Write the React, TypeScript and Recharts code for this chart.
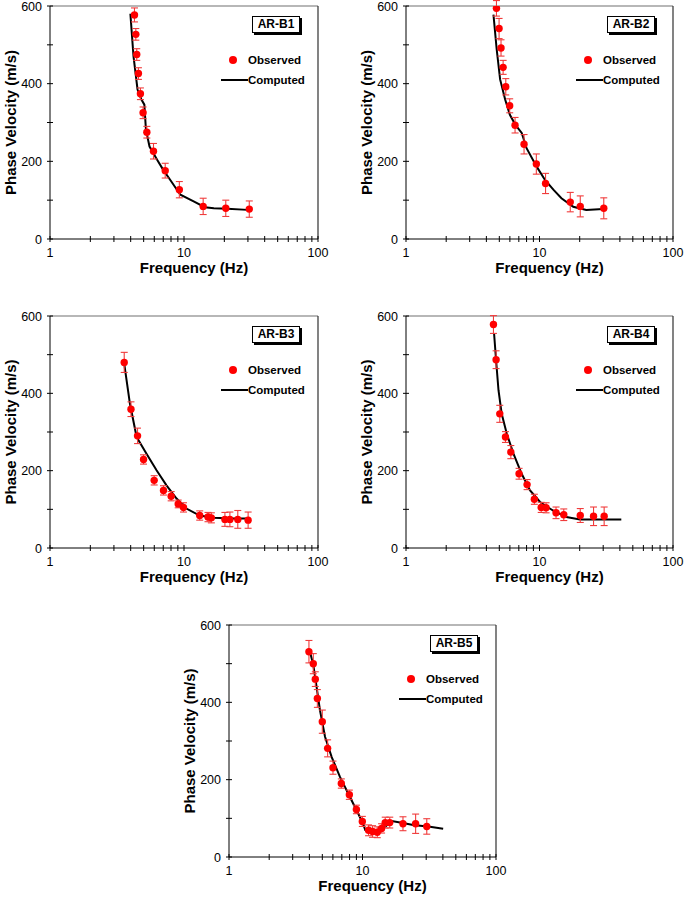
import React from 'react';
import {
  ComposedChart, Line, Scatter, XAxis, YAxis, ErrorBar, ReferenceLine,
} from 'recharts';

const FONT = '"Liberation Sans", Arial, Helvetica, sans-serif';

const X_TICKS = [1, 2, 3, 4, 5, 6, 7, 8, 9, 10, 20, 30, 40, 50, 60, 70, 80, 90, 100];
const X_LABELS = [1, 10, 100];
const Y_TICKS = [0, 100, 200, 300, 400, 500, 600];
const Y_LABELS = [0, 200, 400, 600];

// AR-B1
const B1_OBS_F = [4.27, 4.37, 4.44, 4.57, 4.73, 4.95, 5.28, 5.92, 7.24, 9.23, 13.9, 20.5, 30.7];
const B1_OBS_V = [577, 527, 475, 426, 374, 325, 275, 226, 176, 127, 84, 79, 77];
const B1_OBS_E = [18, 15, 15, 15, 15, 15, 15, 20, 19, 21, 21, 21, 21];
const B1_CALC_F = [3.98, 4.2, 4.5, 4.8, 5.06, 5.2, 5.53, 6.3, 7.0, 7.9, 9.4, 11.9, 14.3, 16.7, 21, 29.8];
const B1_CALC_V = [580, 470, 385, 360, 346, 281, 238, 204, 178, 152, 114, 96, 82, 79, 78, 75];

// AR-B2
const B2_OBS_F = [4.76, 4.98, 5.15, 5.34, 5.59, 5.98, 6.56, 7.66, 9.47, 11.1, 17.0, 20.2, 30.3];
const B2_OBS_V = [594, 542, 492, 442, 392, 343, 293, 244, 193, 143, 95, 84, 79];
const B2_OBS_E = [20, 26, 21, 18, 21, 18, 20, 25, 26, 26, 25, 27, 27];
const B2_CALC_F = [4.52, 4.78, 5.07, 5.53, 6.0, 6.6, 7.36, 8.0, 9.5, 11.0, 12.7, 14.6, 17.9, 22.4, 29.9];
const B2_CALC_V = [578, 488, 411, 359, 320, 294, 273, 234, 187, 152, 127, 105, 83, 75, 77];

// AR-B3
const B3_OBS_F = [3.58, 4.02, 4.5, 4.99, 5.99, 7.03, 8.02, 9.05, 9.91, 13.1, 15.1, 16.0, 20.2, 22.0, 25.2, 30.1];
const B3_OBS_V = [480, 359, 290, 229, 175, 149, 134, 114, 105, 84, 80, 78, 74, 74, 74, 72];
const B3_OBS_E = [26, 19, 20, 12, 12, 12, 12, 10, 12, 12, 12, 13, 18, 19, 23, 21];
const B3_CALC_F = [3.58, 3.95, 4.43, 5.25, 6.24, 7.4, 8.8, 10.4, 13.1, 16.5, 23.3, 30.1];
const B3_CALC_V = [477, 373, 287, 244, 201, 162, 128, 102, 84, 78, 76, 76];

// AR-B4
const B4_OBS_F = [4.52, 4.73, 5.04, 5.56, 6.1, 7.03, 8.07, 9.15, 10.3, 11.2, 13.3, 15.2, 20.2, 25.4, 30.5];
const B4_OBS_V = [578, 487, 347, 287, 248, 192, 164, 126, 105, 104, 91, 86, 84, 82, 82];
const B4_OBS_E = [23, 23, 22, 14, 17, 14, 13, 13, 13, 13, 15, 15, 18, 24, 24];
const B4_CALC_F = [4.57, 4.73, 4.93, 5.21, 5.68, 6.38, 7.35, 8.5, 10.1, 12.6, 15.9, 20.1, 31.7, 41];
const B4_CALC_V = [554, 485, 408, 347, 296, 244, 192, 149, 119, 97, 80, 74, 74, 74];

// AR-B5
const B5_OBS_F = [3.97, 4.28, 4.43, 4.59, 5.0, 5.48, 6.01, 6.94, 7.97, 9.0, 9.97, 11.1, 11.9, 12.9, 13.9, 14.8, 16.0, 20.1, 25.0, 30.3];
const B5_OBS_V = [531, 500, 460, 410, 350, 281, 231, 190, 161, 123, 92, 69, 66, 64, 74, 89, 89, 86, 86, 79];
const B5_OBS_E = [29, 26, 19, 23, 30, 22, 17, 12, 12, 11, 13, 14, 15, 14, 12, 14, 14, 18, 25, 20];
const B5_CALC_F = [4.04, 4.28, 4.53, 4.8, 5.24, 5.87, 6.78, 8.05, 9.3, 10.1, 10.5, 11.4, 12.8, 13.9, 15.2, 16.6, 19.1, 24.0, 32.0, 40.2];
const B5_CALC_V = [531, 497, 440, 380, 311, 259, 207, 155, 112, 86, 69, 65, 63, 69, 82, 93, 89, 83, 78, 73];

function XTick(props: any) {
  const { x, y, payload } = props;
  const v = payload.value;
  return (
    <g>
      <line x1={x} x2={x} y1={y - 3} y2={y + 3} stroke="#000" />
      {X_LABELS.includes(v) && (
        <text x={x} y={y + 18} textAnchor="middle" fontSize={12.5} fontFamily={FONT} fill="#000">{v}</text>
      )}
    </g>
  );
}

function YTick(props: any) {
  const { x, y, payload } = props;
  const v = payload.value;
  return (
    <g>
      <line x1={x - 3} x2={x + 3} y1={y} y2={y} stroke="#000" />
      {Y_LABELS.includes(v) && (
        <text x={x - 8} y={y + 4.5} textAnchor="end" fontSize={12.5} fontFamily={FONT} fill="#000">{v}</text>
      )}
    </g>
  );
}

type PanelProps = {
  name: string;
  obsF: number[]; obsV: number[]; obsE: number[];
  calcF: number[]; calcV: number[];
  left: number; top: number; width: number; height: number;
  plot: { top: number; right: number; bottom: number; left: number };
};

function Panel({ name, obsF, obsV, obsE, calcF, calcV, left, top, width, height, plot }: PanelProps) {
  const obs = obsF.map((f, i) => ({ f, v: obsV[i], e: obsE[i] }));
  const calc = calcF.map((f, i) => ({ f, v: calcV[i] }));
  // axes get 1px of room each, so the chart margin is one pixel less
  const margin = { top: plot.top, right: plot.right, bottom: plot.bottom - 1, left: plot.left - 1 };
  const R = width - plot.right;
  const T = plot.top;
  const txt: React.CSSProperties = { position: 'absolute', fontFamily: FONT, fontWeight: 'bold', fontSize: 11.5, lineHeight: '14px', whiteSpace: 'nowrap' };

  return (
    <div style={{ position: 'absolute', left, top, width, height }}>
      <ComposedChart width={width} height={height} margin={margin}>
        <XAxis
          type="number" dataKey="f" scale="log" domain={[1, 100]} allowDataOverflow
          ticks={X_TICKS} interval={0} tick={<XTick />} tickLine={false} tickSize={0} tickMargin={0}
          height={1} axisLine={{ stroke: '#000' }}
          label={{
            content: (p: any) => {
              const vb = p.viewBox;
              return (
                <text x={vb.x + vb.width / 2 + 10} y={vb.y + 34} textAnchor="middle" fontSize={15} fontWeight="bold" fontFamily={FONT}>
                  Frequency (Hz)
                </text>
              );
            },
          }}
        />
        <YAxis
          type="number" dataKey="v" domain={[0, 600]} allowDataOverflow
          ticks={Y_TICKS} interval={0} tick={<YTick />} tickLine={false} tickSize={0} tickMargin={0}
          width={1} axisLine={{ stroke: '#000' }}
          label={{
            content: (p: any) => {
              const vb = p.viewBox;
              const cx = vb.x + vb.width - 40;
              const cy = vb.y + vb.height / 2;
              return (
                <text x={cx} y={cy} transform={`rotate(-90 ${cx} ${cy})`} textAnchor="middle" dominantBaseline="central" fontSize={15} fontWeight="bold" fontFamily={FONT}>
                  Phase Velocity (m/s)
                </text>
              );
            },
          }}
        />
        <ReferenceLine y={600} stroke="#707070" strokeWidth={1.2} />
        <ReferenceLine x={100} stroke="#303030" strokeWidth={1.2} />
        <Line data={calc} dataKey="v" type="linear" stroke="#000" strokeWidth={2} dot={false} isAnimationActive={false} />
        <Scatter
          data={obs} dataKey="v" fill="#ff0000" isAnimationActive={false}
          shape={(p: any) => <circle cx={p.cx} cy={p.cy} r={3.7} fill="#ff0000" />}
        >
          <ErrorBar dataKey="e" direction="y" width={3.5} stroke="#f03c3c" strokeWidth={1.1} isAnimationActive={false} />
        </Scatter>
      </ComposedChart>

      <div style={{ position: 'absolute', left: R - 66, top: T + 10, width: 46, height: 15, border: '1px solid #000', boxShadow: '2px 2px 0 #000', background: '#fff', fontFamily: FONT, fontWeight: 'bold', fontSize: 12, lineHeight: '15px', textAlign: 'center' }}>
        {name}
      </div>
      <div style={{ position: 'absolute', left: R - 89, top: T + 50, width: 8, height: 8, borderRadius: 4, background: '#ff0000' }} />
      <div style={{ ...txt, left: R - 70, top: T + 47 }}>Observed</div>
      <div style={{ position: 'absolute', left: R - 97, top: T + 73, width: 27, height: 2, background: '#000' }} />
      <div style={{ ...txt, left: R - 70, top: T + 67 }}>Computed</div>
    </div>
  );
}

export default function App() {
  return (
    <div style={{ position: 'absolute', left: 0, top: 0, width: 685, height: 898, background: '#fff' }}>
      <Panel name="AR-B1" obsF={B1_OBS_F} obsV={B1_OBS_V} obsE={B1_OBS_E} calcF={B1_CALC_F} calcV={B1_CALC_V}
        left={0} top={0} width={340} height={290} plot={{ top: 6, right: 22, bottom: 51, left: 50 }} />
      <Panel name="AR-B2" obsF={B2_OBS_F} obsV={B2_OBS_V} obsE={B2_OBS_E} calcF={B2_CALC_F} calcV={B2_CALC_V}
        left={340} top={0} width={345} height={290} plot={{ top: 6, right: 12, bottom: 51, left: 66 }} />
      <Panel name="AR-B3" obsF={B3_OBS_F} obsV={B3_OBS_V} obsE={B3_OBS_E} calcF={B3_CALC_F} calcV={B3_CALC_V}
        left={0} top={300} width={340} height={290} plot={{ top: 16, right: 22, bottom: 42, left: 50 }} />
      <Panel name="AR-B4" obsF={B4_OBS_F} obsV={B4_OBS_V} obsE={B4_OBS_E} calcF={B4_CALC_F} calcV={B4_CALC_V}
        left={340} top={300} width={345} height={290} plot={{ top: 16, right: 12, bottom: 42, left: 66 }} />
      <Panel name="AR-B5" obsF={B5_OBS_F} obsV={B5_OBS_V} obsE={B5_OBS_E} calcF={B5_CALC_F} calcV={B5_CALC_V}
        left={180} top={610} width={340} height={288} plot={{ top: 15, right: 24, bottom: 41, left: 49 }} />
    </div>
  );
}
